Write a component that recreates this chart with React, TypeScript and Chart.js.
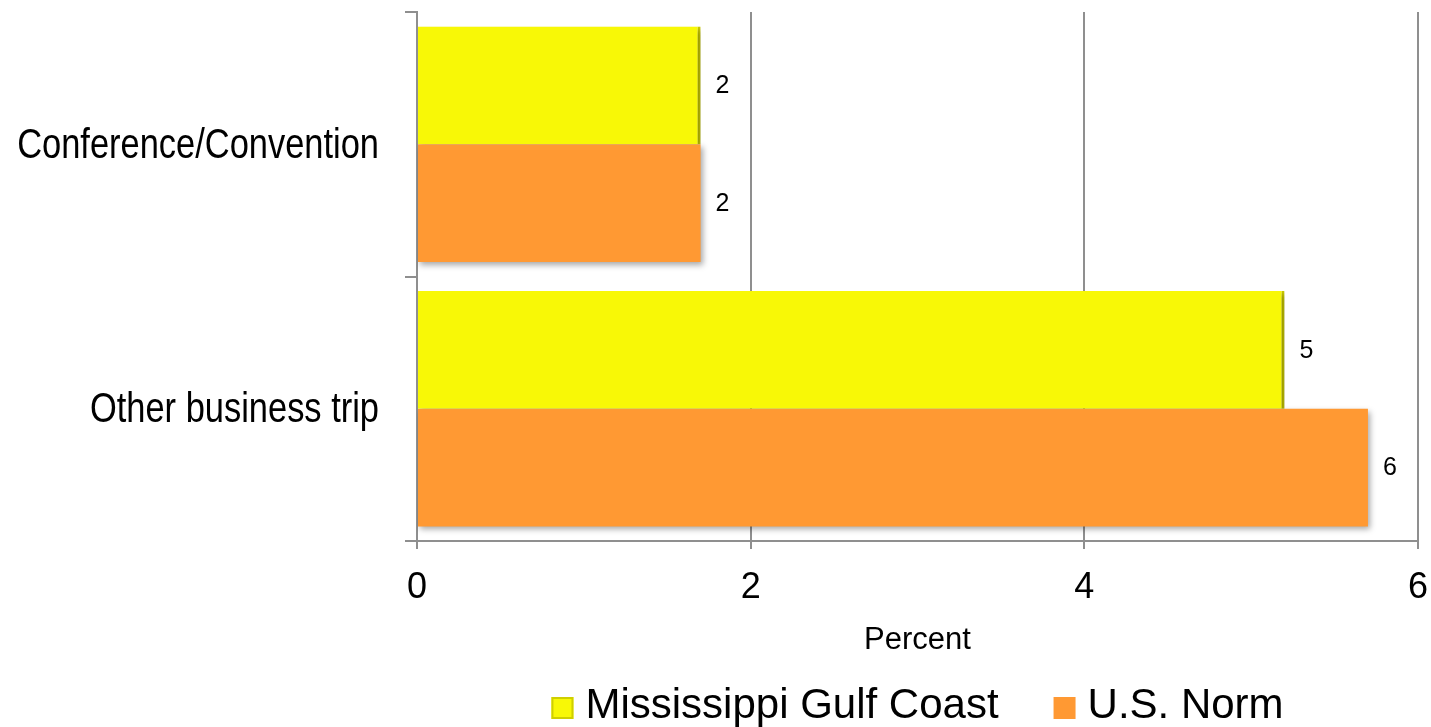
import React, { useEffect, useRef } from "react";
import { Chart, registerables } from "chart.js";

Chart.register(...registerables);

const categories = ["Conference/Convention", "Other business trip"];
const gulfCoast = [1.7, 5.2];
const usNorm = [1.7, 5.7];
const xTicks = [0, 2, 4, 6];
const seriesNames = ["Mississippi Gulf Coast", "U.S. Norm"];
const seriesColors = ["#F8F806", "#FF9933"];

const SANS = '"Liberation Sans", Arial, sans-serif';

const shadowPlugin = {
  id: "barShadow",
  beforeDatasetDraw(chart: any) {
    const ctx = chart.ctx;
    ctx.save();
    ctx.shadowColor = "rgba(0,0,0,0.35)";
    ctx.shadowBlur = 6;
    ctx.shadowOffsetX = 2;
    ctx.shadowOffsetY = 3;
  },
  afterDatasetDraw(chart: any) {
    chart.ctx.restore();
  },
};

const valueLabelPlugin = {
  id: "valueLabels",
  afterDatasetsDraw(chart: any) {
    const ctx = chart.ctx;
    ctx.save();
    ctx.font = `25px ${SANS}`;
    ctx.fillStyle = "#000";
    ctx.textAlign = "left";
    ctx.textBaseline = "middle";
    chart.data.datasets.forEach((ds: any, i: number) => {
      const meta = chart.getDatasetMeta(i);
      meta.data.forEach((el: any, j: number) => {
        ctx.fillText(String(Math.round(ds.data[j])), el.x + 15, el.y + 1);
      });
    });
    ctx.restore();
  },
};

// Category labels drawn in a condensed (Arial Narrow–like) style
const narrowLabelPlugin = {
  id: "narrowLabels",
  afterDraw(chart: any) {
    const ctx = chart.ctx;
    const y = chart.scales.y;
    ctx.save();
    ctx.font = `42px ${SANS}`;
    ctx.fillStyle = "#000";
    ctx.textAlign = "right";
    ctx.textBaseline = "middle";
    const rightX = chart.chartArea.left - 38;
    categories.forEach((c, i) => {
      const py = y.getPixelForValue(i) + 2;
      ctx.save();
      ctx.translate(rightX, py);
      ctx.scale(0.82, 1);
      ctx.fillText(c, 0, 0);
      ctx.restore();
    });
    ctx.restore();
  },
};

const customLegendPlugin = {
  id: "customLegend",
  afterDraw(chart: any) {
    const ctx = chart.ctx;
    ctx.save();
    ctx.font = `42px ${SANS}`;
    ctx.textBaseline = "middle";
    ctx.textAlign = "left";
    const box = 22;
    const gap = 12;
    const itemGap = 55;
    const widths = seriesNames.map((n) => ctx.measureText(n).width);
    const total = widths.reduce((a, w) => a + box + gap + w, 0) + itemGap * (seriesNames.length - 1);
    const ca = chart.chartArea;
    let x = (ca.left + ca.right) / 2 - total / 2;
    const cy = chart.height - 21;
    seriesNames.forEach((n, i) => {
      ctx.fillStyle = seriesColors[i];
      ctx.fillRect(x, cy - box / 2 + 2, box, box);
      if (i === 0) {
        ctx.strokeStyle = "#CFCF00";
        ctx.lineWidth = 2;
        ctx.strokeRect(x + 1, cy - box / 2 + 3, box - 2, box - 2);
      }
      ctx.fillStyle = "#000";
      ctx.fillText(n, x + box + gap, cy);
      x += box + gap + widths[i] + itemGap;
    });
    ctx.restore();
  },
};

export default function App() {
  const ref = useRef<HTMLCanvasElement>(null);
  useEffect(() => {
    if (!ref.current) return;
    const chart = new Chart(ref.current, {
      type: "bar",
      data: {
        labels: categories,
        datasets: [
          {
            label: seriesNames[0],
            data: gulfCoast,
            backgroundColor: seriesColors[0],
            borderColor: "#D0D000",
            borderWidth: { right: 3, top: 0, bottom: 0, left: 0 } as any,
            borderSkipped: false,
          },
          {
            label: seriesNames[1],
            data: usNorm,
            backgroundColor: seriesColors[1],
            borderWidth: 0,
          },
        ],
      },
      options: {
        indexAxis: "y",
        responsive: false,
        animation: false,
        datasets: {
          bar: { categoryPercentage: 0.89, barPercentage: 1 },
        },
        layout: { padding: { top: 12, right: 13, left: 0, bottom: 68 } },
        scales: {
          x: {
            min: 0,
            max: 6,
            afterBuildTicks(axis: any) {
              axis.ticks = xTicks.map((v) => ({ value: v }));
            },
            afterFit(scale: any) {
              scale.height = 118;
              scale.paddingLeft = 0;
              scale.paddingRight = 0;
            },
            grid: {
              color: "#8f8f8f",
              lineWidth: 2,
              tickLength: 8,
              drawTicks: true,
            },
            border: { color: "#8f8f8f", width: 2 },
            ticks: {
              color: "#000",
              font: { family: SANS, size: 36 },
              padding: 17,
            },
            title: {
              display: true,
              text: "Percent",
              color: "#000",
              font: { family: SANS, size: 31 },
              padding: { top: 0, bottom: 0 },
            },
          },
          y: {
            afterFit(scale: any) {
              scale.width = 417;
            },
            grid: {
              display: true,
              drawOnChartArea: false,
              color: "#8f8f8f",
              lineWidth: 2,
              tickLength: 12,
            },
            border: { color: "#8f8f8f", width: 2 },
            ticks: { display: false },
          },
        },
        plugins: {
          legend: { display: false },
          tooltip: { enabled: false },
        },
      },
      plugins: [shadowPlugin, valueLabelPlugin, narrowLabelPlugin, customLegendPlugin],
    });
    return () => chart.destroy();
  }, []);
  return (
    <div style={{ position: "fixed", left: 0, top: 0, width: 1431, height: 727, background: "#fff" }}>
      <canvas ref={ref} width={1431} height={727} />
    </div>
  );
}
